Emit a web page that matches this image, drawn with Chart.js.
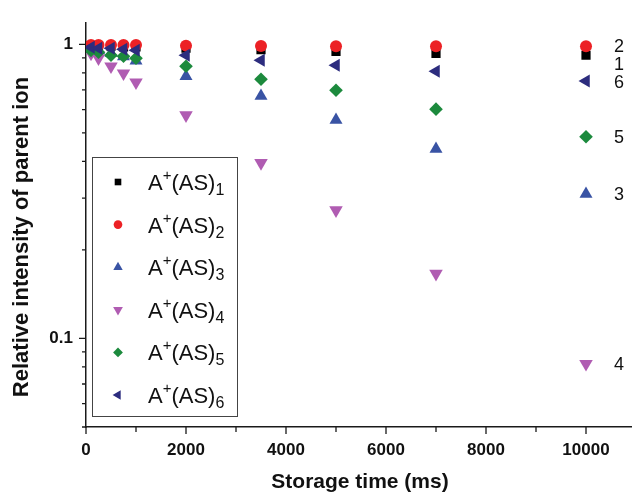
<!DOCTYPE html>
<html>
<head>
<meta charset="utf-8">
<script src="https://cdn.jsdelivr.net/npm/chart.js@4.4.1/dist/chart.umd.min.js"></script>
<style>
  html, body { margin: 0; padding: 0; background: #ffffff; }
</style>
</head>
<body>
<canvas id="decayChart" width="632" height="494"></canvas>
<script>
// ===== data =====
const storageTime = [100, 250, 500, 750, 1000, 2000, 3500, 5000, 7000, 10000];
const ion1 = [0.99, 0.99, 0.985, 0.98, 0.98, 0.97, 0.96, 0.947, 0.932, 0.918];
const ion2 = [0.995, 0.995, 0.995, 0.995, 0.995, 0.99, 0.988, 0.985, 0.985, 0.985];
const ion3 = [0.965, 0.955, 0.935, 0.91, 0.88, 0.779, 0.667, 0.553, 0.441, 0.31];
const ion4 = [0.932, 0.897, 0.842, 0.797, 0.743, 0.574, 0.395, 0.273, 0.166, 0.082];
const ion5 = [0.954, 0.94, 0.918, 0.911, 0.897, 0.842, 0.761, 0.698, 0.602, 0.485];
const ion6 = [0.977, 0.969, 0.969, 0.962, 0.954, 0.918, 0.883, 0.849, 0.81, 0.75];

const seriesIndex = ["1", "2", "3", "4", "5", "6"];
const endLabels = ["1", "2", "3", "4", "5", "6"];

const xTickValues = [0, 1000, 2000, 3000, 4000, 5000, 6000, 7000, 8000, 9000, 10000];
const xLabelValues = [0, 2000, 4000, 6000, 8000, 10000];
const yTickValues = [0.05, 0.06, 0.07, 0.08, 0.09, 0.1, 0.2, 0.3, 0.4, 0.5, 0.6, 0.7, 0.8, 0.9, 1];
const yLabelValues = [0.1, 1];

const FONT = '"Liberation Sans", Arial, Helvetica, sans-serif';
const AXIS = "#1a1a1a";

const toPoints = vals => storageTime.map((t, i) => ({ x: t, y: vals[i] }));

// ===== axis titles =====
const titlePlugin = {
    id: "titles",
    afterDraw(chart) {
        const ctx = chart.ctx;
        ctx.save();
        ctx.fillStyle = "#111";
        ctx.font = "bold 21px " + FONT;
        ctx.textAlign = "center";
        ctx.textBaseline = "middle";
        ctx.fillText("Storage time (ms)", 360, 482);
        ctx.font = "bold 22px " + FONT;
        ctx.translate(22, 237);
        ctx.rotate(-Math.PI / 2);
        ctx.fillText("Relative intensity of parent ion", 0, 0);
        ctx.restore();
    }
};

// ===== tick marks (major longer than minor) =====
const tickPlugin = {
    id: "tickMarks",
    afterDraw(chart) {
        const ctx = chart.ctx;
        const xs = chart.scales.x, ys = chart.scales.y;
        const area = chart.chartArea;
        ctx.save();
        ctx.strokeStyle = AXIS;
        ctx.lineWidth = 1.3;
        ctx.beginPath();
        xTickValues.forEach(v => {
            const px = xs.getPixelForValue(v);
            const len = xLabelValues.includes(v) ? 7 : 5;
            ctx.moveTo(px, area.bottom);
            ctx.lineTo(px, area.bottom + len);
        });
        yTickValues.forEach(v => {
            const py = ys.getPixelForValue(v);
            const len = yLabelValues.includes(v) ? 7 : 4;
            ctx.moveTo(area.left, py);
            ctx.lineTo(area.left - len, py);
        });
        ctx.stroke();
        ctx.restore();
    }
};

// ===== legend with super/subscripts =====
const legendPlugin = {
    id: "richLegend",
    afterDraw(chart) {
        const ctx = chart.ctx;
        const area = chart.chartArea;
        const boxL = area.left + 6, boxR = area.left + 151;
        const boxB = area.bottom - 11, boxT = boxB - 259;
        ctx.save();
        ctx.fillStyle = "#ffffff";
        ctx.fillRect(boxL, boxT, boxR - boxL, boxB - boxT);
        ctx.strokeStyle = "#444";
        ctx.lineWidth = 1;
        ctx.strokeRect(boxL + 0.5, boxT + 0.5, boxR - boxL, boxB - boxT);

        chart.data.datasets.forEach((ds, i) => {
            const cy = boxT + 25 + i * 42.6;
            ctx.fillStyle = ds.backgroundColor;
            ctx.strokeStyle = ds.backgroundColor;
            Chart.helpers.drawPoint(ctx, {
                pointStyle: ds.pointStyle,
                radius: ds.pointRadius * 0.72,
                rotation: ds.rotation || 0,
                borderWidth: 0
            }, boxL + 26, cy);

            let x = boxL + 56;
            const base = cy + 8;
            ctx.fillStyle = "#111";
            ctx.textAlign = "left";
            ctx.textBaseline = "alphabetic";
            ctx.font = "22px " + FONT;
            ctx.fillText("A", x, base);
            x += ctx.measureText("A").width;
            ctx.font = "15px " + FONT;
            ctx.fillText("+", x, base - 10);
            x += ctx.measureText("+").width;
            ctx.font = "22px " + FONT;
            ctx.fillText("(AS)", x, base);
            x += ctx.measureText("(AS)").width;
            ctx.font = "16px " + FONT;
            ctx.fillText(seriesIndex[i], x, base + 5);
        });
        ctx.restore();
    }
};

// ===== series numbers at right end =====
const endLabelPlugin = {
    id: "endLabels",
    afterDraw(chart) {
        const ctx = chart.ctx;
        const xs = chart.scales.x, ys = chart.scales.y;
        const items = chart.data.datasets.map((ds, i) => ({
            text: endLabels[i],
            y: ys.getPixelForValue(ds.data.at(-1).y)
        })).sort((a, b) => a.y - b.y);
        for (let i = 1; i < items.length; i++) {
            if (items[i].y - items[i - 1].y < 18) items[i].y = items[i - 1].y + 18;
        }
        ctx.save();
        ctx.fillStyle = "#111";
        ctx.font = "18px " + FONT;
        ctx.textAlign = "left";
        ctx.textBaseline = "middle";
        const px = xs.getPixelForValue(storageTime.at(-1)) + 28;
        items.forEach(it => ctx.fillText(it.text, px, it.y + 1));
        ctx.restore();
    }
};

const ctx = document.getElementById("decayChart").getContext("2d");
const decayChart = new Chart(ctx, {
    type: "scatter",
    data: {
        datasets: [
            { label: "A+(AS)1", data: toPoints(ion1), backgroundColor: "#000000", pointStyle: "rect", pointRadius: 6.5, order: 3 },
            { label: "A+(AS)2", data: toPoints(ion2), backgroundColor: "#ec2125", pointStyle: "circle", pointRadius: 6, order: 2 },
            { label: "A+(AS)3", data: toPoints(ion3), backgroundColor: "#3953a4", pointStyle: "triangle", pointRadius: 7.5, order: 5 },
            { label: "A+(AS)4", data: toPoints(ion4), backgroundColor: "#b05cb2", pointStyle: "triangle", rotation: 180, pointRadius: 7.8, order: 6 },
            { label: "A+(AS)5", data: toPoints(ion5), backgroundColor: "#1c8a3d", pointStyle: "rectRot", pointRadius: 6.8, order: 1 },
            { label: "A+(AS)6", data: toPoints(ion6), backgroundColor: "#2c2c7e", pointStyle: "triangle", rotation: 270, pointRadius: 7.5, order: 0 }
        ].map(ds => ({ ...ds, borderWidth: 0, pointBorderWidth: 0, borderColor: ds.backgroundColor, pointHoverRadius: ds.pointRadius, pointRotation: ds.rotation || 0 }))
    },
    options: {
        responsive: false,
        animation: false,
        layout: { autoPadding: false, padding: { top: 20, right: 0, left: 0, bottom: 0 } },
        plugins: {
            legend: { display: false },
            tooltip: { enabled: false }
        },
        scales: {
            x: {
                type: "linear",
                min: 0,
                max: 10920,
                afterBuildTicks(scale) { scale.ticks = xTickValues.map(v => ({ value: v })); },
                afterFit(scale) { scale.height = 67; },
                grid: { display: true, drawOnChartArea: false, drawTicks: false },
                border: { display: true, color: AXIS, width: 1.5 },
                ticks: {
                    padding: 13,
                    color: "#111",
                    font: { family: FONT, size: 17, weight: "bold" },
                    maxRotation: 0,
                    autoSkip: false,
                    callback: v => xLabelValues.includes(v) ? String(v) : ""
                }
            },
            y: {
                type: "logarithmic",
                min: 0.05,
                max: 1.18,
                afterBuildTicks(scale) { scale.ticks = yTickValues.map(v => ({ value: v })); },
                afterFit(scale) { scale.width = 86; },
                grid: { display: true, drawOnChartArea: false, drawTicks: false },
                border: { display: true, color: AXIS, width: 1.5 },
                ticks: {
                    padding: 13,
                    color: "#111",
                    font: { family: FONT, size: 17, weight: "bold" },
                    autoSkip: false,
                    callback: v => yLabelValues.includes(v) ? String(v) : ""
                }
            }
        }
    },
    plugins: [tickPlugin, legendPlugin, endLabelPlugin, titlePlugin]
});
</script>
</body>
</html>
